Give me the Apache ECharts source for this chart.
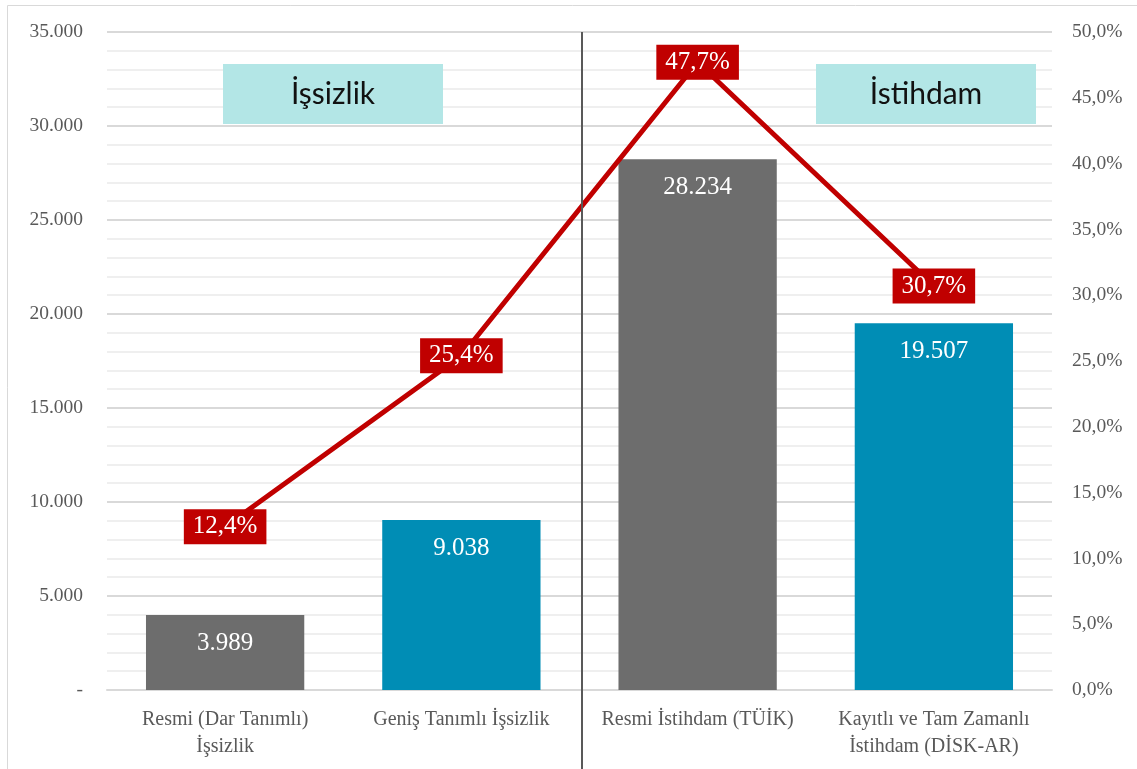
<!DOCTYPE html>
<html>
<head>
<meta charset="utf-8">
<script src="https://cdn.jsdelivr.net/npm/echarts@6/dist/echarts.min.js"></script>
<style>
  html, body { margin: 0; padding: 0; background: #fff; }
  #chart { width: 1137px; height: 769px; }
</style>
</head>
<body>
<div id="chart"></div>
<script>
// kategoriler ve degerler
var categories = ['Resmi (Dar Tanımlı)\nİşsizlik', 'Geniş Tanımlı İşsizlik', 'Resmi İstihdam (TÜİK)', 'Kayıtlı ve Tam Zamanlı\nİstihdam (DİSK-AR)'];
var barValues = [3989, 9038, 28234, 19507];
var barColors = ['#6d6d6d', '#008db5', '#6d6d6d', '#008db5'];
var rateValues = [12.4, 25.4, 47.7, 30.7];

var serif = 'Liberation Serif';
var sans = 'Lato';

function fmtThousand(v) {
    if (v === 0) return '-';
    return String(v).replace(/\B(?=(\d{3})+(?!\d))/g, '.');
}
function fmtPct(v, d) {
    return v.toFixed(d).replace('.', ',') + '%';
}

var myChart = echarts.init(document.getElementById('chart'));

var option = {
    animation: false,
    grid: { left: 107, right: 85, top: 32, bottom: 79 },
    xAxis: {
        type: 'category',
        data: categories,
        axisTick: { show: false },
        axisLine: { lineStyle: { color: '#d9d9d9', width: 2 } },
        axisLabel: {
            color: '#595959', fontFamily: serif, fontSize: 20,
            lineHeight: 27, margin: 16, interval: 0
        }
    },
    yAxis: [
        {
            type: 'value', min: 0, max: 35000, interval: 5000,
            axisLine: { show: false }, axisTick: { show: false },
            axisLabel: {
                color: '#595959', fontFamily: serif, fontSize: 19.5, margin: 24,
                formatter: fmtThousand
            },
            splitLine: { lineStyle: { color: '#d9d9d9', width: 2 } },
            minorTick: { show: false, splitNumber: 5 },
            minorSplitLine: { show: true, lineStyle: { color: '#efefef', width: 2 } }
        },
        {
            type: 'value', min: 0, max: 50, interval: 5,
            axisLine: { show: false }, axisTick: { show: false },
            splitLine: { show: false },
            axisLabel: {
                color: '#595959', fontFamily: serif, fontSize: 19.5, margin: 20,
                formatter: function (v) { return fmtPct(v, 1); }
            }
        }
    ],
    series: [
        {
            name: 'Sayı',
            type: 'bar',
            barWidth: '67%',
            data: barValues.map(function (v, i) {
                return { value: v, itemStyle: { color: barColors[i] } };
            }),
            label: {
                show: true, position: 'insideTop', distance: 16,
                color: '#fff', fontFamily: serif, fontSize: 25,
                formatter: function (p) { return fmtThousand(p.value); }
            }
        },
        {
            name: 'Oran',
            type: 'line',
            yAxisIndex: 1,
            data: rateValues,
            symbol: 'circle',
            symbolSize: 2,
            showSymbol: true,
            itemStyle: { color: '#c00000' },
            lineStyle: { color: '#c00000', width: 5 },
            z: 5,
            label: {
                show: true, position: 'inside', opacity: 1,
                color: '#fff', backgroundColor: '#c00000',
                fontFamily: serif, fontSize: 25, padding: [6, 9, 4, 9],
                formatter: function (p) { return fmtPct(p.value, 1); }
            }
        }
    ]
};
myChart.setOption(option);

// ayirici dikey cizgi: 2. ve 3. kategori arasinda
var x1 = myChart.convertToPixel({ xAxisIndex: 0 }, 1);
var x2 = myChart.convertToPixel({ xAxisIndex: 0 }, 2);
var sepX = Math.round((x1 + x2) / 2) + 2;
var topY = myChart.convertToPixel({ yAxisIndex: 0 }, 35000);

function boxLabel(text, cx) {
    return {
        type: 'group',
        children: [
            { type: 'rect', shape: { x: cx - 110, y: 64, width: 220, height: 60 }, style: { fill: '#b3e6e6' } },
            { type: 'text', x: cx, y: 94, style: { text: text, fill: '#111', font: '30px ' + sans, align: 'center', verticalAlign: 'middle' } }
        ]
    };
}

myChart.setOption({
    graphic: [
        { type: 'rect', silent: true, shape: { x: 7.5, y: 5.5, width: 1300, height: 900 }, style: { fill: 'none', stroke: '#d9d9d9', lineWidth: 1 } },
        { type: 'line', shape: { x1: sepX, y1: topY, x2: sepX, y2: 769 }, style: { stroke: '#595959', lineWidth: 2 }, z: 10 },
        boxLabel('İşsizlik', 333),
        boxLabel('İstihdam', 926)
    ]
});
</script>
</body>
</html>
